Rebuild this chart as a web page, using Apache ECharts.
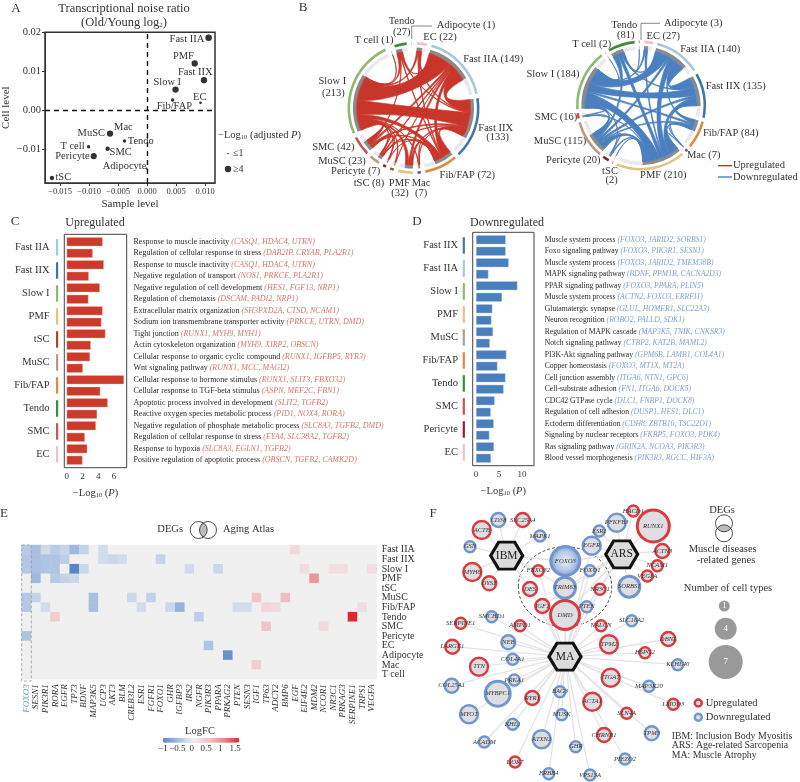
<!DOCTYPE html>
<html><head><meta charset="utf-8">
<style>html,body{margin:0;padding:0;background:#fff}#c{width:800px;height:782px}</style>
<script src="https://cdn.jsdelivr.net/npm/echarts@6/dist/echarts.min.js"></script>
</head><body><div id="c"></div>
<script>
const FONT='Liberation Serif', INK='#333';
/* ---------- A ---------- */
const noiseNames=['Fast IIA','PMF','Fast IIX','Slow I','Fib/FAP','EC','Mac','MuSC','Tendo','T cell','SMC','Pericyte','Adipocyte','tSC'];
const noiseSample=[0.0106,0.0082,0.0098,0.0049,0.0044,0.0092,-0.0062,-0.0064,-0.0039,-0.0101,-0.0068,-0.0092,-0.0001,-0.0164];
const noiseCell=[0.0186,0.012,0.0077,0.0053,0.0026,0.0019,-0.006,-0.006,-0.0079,-0.0094,-0.0099,-0.0118,-0.0150,-0.0174];
const noiseLogP=[4.2,4,4,4,1.6,1,1,4,1.6,1.6,2.4,3.8,0.6,2.4];
const noiseOffset=[[-21.7,1],[-11.3,-7.7],[-8.7,-7.7],[-8.3,-7.3],[1.7,6.3],[-.7,-6],[12.3,-6.7],[-18.7,-.3],[16.3,0],[-16,-.3],[13,3.7],[-21.3,0],[-22,-2.3],[11.3,-1]];
/* ---------- B ---------- */
const chordOrder=['EC','Fast IIA','Fast IIX','Fib/FAP','Mac','PMF','tSC','Pericyte','MuSC','SMC','Slow I','T cell','Tendo','Adipocyte'];
const chordColors=['#e8c2d0','#a5c8dd','#3f78a8','#e08a3c','#6a3fa0','#e0c483','#a8452a','#8f2330','#b89a85','#c9525f','#8cbb6e','#e8a070','#3f8a3c','#8f8f8f'];
const upCounts=[22,149,133,72,7,32,8,7,23,42,213,1,27,1];
const downCounts=[27,140,135,84,7,210,2,20,115,16,184,2,81,3];
const upLinks=[['Fast IIA','Slow I',50],['Fast IIA','Fast IIX',28],['Fast IIX','Slow I',38],['Fast IIA','Fib/FAP',9],['Fast IIX','Fib/FAP',12],['Slow I','Fib/FAP',12],['Slow I','PMF',8],['Fast IIA','PMF',5],['Fast IIX','PMF',4],['PMF','Fib/FAP',2],['Slow I','SMC',9],['Fast IIA','SMC',5],['Fast IIX','SMC',4],['Fib/FAP','SMC',3],['Slow I','Tendo',6],['Fast IIA','Tendo',4],['Fast IIX','Tendo',2],['Fib/FAP','Tendo',2],['Tendo','SMC',1],['Slow I','EC',4],['Fast IIA','EC',4],['Fast IIX','EC',3],['Fib/FAP','EC',2],['Slow I','MuSC',4],['Fast IIA','MuSC',2],['Fast IIX','MuSC',2],['Fib/FAP','MuSC',1],['MuSC','SMC',1],['Mac','Slow I',2],['Mac','Fast IIX',1],['Mac','Fib/FAP',1],['tSC','Slow I',2],['tSC','Fast IIA',1],['Pericyte','Slow I',1],['Pericyte','SMC',1],['Pericyte','Fib/FAP',1],['T cell','Slow I',1]];
const downLinks=[['PMF','Slow I',35],['PMF','Fast IIA',22],['PMF','Fast IIX',20],['PMF','MuSC',18],['PMF','Fib/FAP',10],['PMF','Tendo',12],['PMF','EC',4],['Slow I','Fast IIA',38],['Slow I','Fast IIX',28],['Slow I','MuSC',15],['Slow I','Fib/FAP',7],['Slow I','Tendo',10],['Fast IIA','Fast IIX',30],['Fast IIA','MuSC',8],['Fast IIA','Fib/FAP',6],['Fast IIA','Tendo',5],['Fast IIX','Fib/FAP',8],['Fast IIX','MuSC',8],['Fast IIX','Tendo',5],['MuSC','Fib/FAP',5],['MuSC','Tendo',8],['EC','Slow I',5],['EC','Fast IIA',4],['SMC','Slow I',3],['SMC','PMF',2],['SMC','MuSC',2],['Pericyte','PMF',4],['Pericyte','MuSC',2],['Pericyte','Slow I',2],['Mac','PMF',2],['Mac','Fib/FAP',1],['Mac','Fast IIX',1],['tSC','PMF',1],['T cell','Slow I',1],['Adipocyte','Tendo',1]];
/* ---------- C / D ---------- */
const upCells=['Fast IIA','Fast IIX','Slow I','PMF','tSC','MuSC','Fib/FAP','Tendo','SMC','EC'];
const upCellColors=['#a5c8dd','#3f78a8','#8cbb6e','#e0c483','#a8452a','#b89a85','#e08a3c','#3f8a3c','#c9525f','#e8c2d0'];
const upValues=[4.55,3.3,4.7,2.8,4.2,2.75,4.55,4.4,4.9,3.05,2.95,2.05,7.25,4.25,5.2,3.85,3.7,2.3,2.6,2.0];
const upTerms=['Response to muscle inactivity','Regulation of cellular response to stress','Response to muscle inactivity','Negative regulation of transport','Negative regulation of cell development','Regulation of chemotaxis','Extracellular matrix organization','Sodium ion transmembrane transporter activity','Tight junction','Actin cytoskeleton organization','Cellular response to organic cyclic compound','Wnt signaling pathway','Cellular response to hormone stimulus','Cellular response to TGF-beta stimulus','Apoptotic process involved in development','Reactive oxygen species metabolic process','Negative regulation of phosphate metabolic process','Regulation of cellular response to stress','Response to hypoxia','Positive regulation of apoptotic process'];
const upGenes=['CASQ1, HDAC4, UTRN','DAB2IP, CRYAB, PLA2R1','CASQ1, HDAC4, UTRN','NOS1, PRKCE, PLA2R1','HES1, FGF13, NRP1','DSCAM, PADI2, NRP1','SH3PXD2A, CTSD, NCAM1','PRKCE, UTRN, DMD','RUNX1, MYH9, MYH1','MYH9, XIRP2, OBSCN','RUNX1, IGFBP5, RYR3','RUNX1, MCC, MAGI2','RUNX1, SLIT3, FBXO32','ASPN, MEF2C, FBN1','SLIT2, TGFB2','PID1, NOX4, RORA','SLC8A3, TGFB2, DMD','EYA4, SLC38A2, TGFB2','SLC8A3, EGLN1, TGFB2','OBSCN, TGFB2, CAMK2D'];
const downCells=['Fast IIX','Fast IIA','Slow I','PMF','MuSC','Fib/FAP','Tendo','SMC','Pericyte','EC'];
const downCellColors=['#3f78a8','#a5c8dd','#8cbb6e','#e0c483','#b89a85','#e08a3c','#3f8a3c','#c9525f','#8f2330','#e8c2d0'];
const downValues=[6.45,6.45,7.1,2.7,9.0,5.65,3.55,3.35,3.7,3.0,6.6,4.65,6.4,6.0,4.05,3.2,3.85,2.9,3.9,3.25];
const downTerms=['Muscle system process','Foxo signaling pathway','Muscle system process','MAPK signaling pathway','PPAR signaling pathway','Muscle system process','Glutamatergic synapse','Neuron recognition','Regulation of MAPK cascade','Notch signaling pathway','PI3K-Akt signaling pathway','Copper homeostasis','Cell junction assembly','Cell-substrate adhesion','CDC42 GTPase cycle','Regulation of cell adhesion','Ectoderm differentiation','Signaling by nuclear receptors','Ras signaling pathway','Blood vessel morphogenesis'];
const downGenes=['FOXO3, JARID2, SORBS1','FOXO3, PIK3R1, SESN1','FOXO3, JARID2, TMEM38B','BDNF, PPM1B, CACNA2D3','FOXO3, PPARA, PLIN5','ACTN2, FOXO3, ERRFI1','GLUL, HOMER1, SLC22A3','ROBO2, PALLD, SDK1','MAP3K5, TNIK, CNKSR3','CTBP2, KAT2B, MAML2','GPM6B, LAMB1, COL4A1','FOXO3, MT1X, MT2A','ITGA6, NTN1, GPC6','FN1, ITGA6, DOCK5','DLC1, FNBP1, DOCK8','DUSP1, HES1, DLC1','CDH8, ZBTB16, TSC22D1','FKBP5, FOXO3, PDK4','GRIN2A, NCOA3, PIK3R3','PIK3R3, RGCC, HIF3A'];
/* ---------- E ---------- */
const heatGenes=['FOXO3','SESN1','PIK3R1','RORA','EGFR','TP73','BDNF','MAP3K5','UCP3','AKT3','BLM','CREB3L2','ESR1','FGFR1','FOXO1','GHR','IGFBP3','IRS2','NGFR','PIK3R3','PPARA','PRKAG2','PTEN','SESN3','IGF1','TP63','ADCY2','BMP6','EGF','EIF4E2','MDM2','NCOR1','NR3C1','PRKAG3','SERPINE1','TRPS1','VEGFA'];
const heatCells=['Fast IIA','Fast IIX','Slow I','PMF','tSC','MuSC','Fib/FAP','Tendo','SMC','Pericyte','EC','Adipocyte','Mac','T cell'];
const heatNonZero=[[0,0,-.4],[1,0,-.5],[2,0,-.22],[3,0,-.38],[4,0,-.28],[5,0,-.55],[6,0,-.3],[8,0,-.2],[28,0,.25],
[0,1,-.42],[1,1,-.5],[2,1,-.45],[3,1,-.45],[4,1,-.35],[8,1,-.2],[9,1,-.25],[10,1,-.2],[14,1,-.3],
[0,2,-.42],[1,2,-.5],[2,2,-.45],[3,2,-.45],[5,2,-1],[6,2,-.25],[17,2,-.22],[20,2,-.25],[29,2,.2],[32,2,.2],[33,2,.2],[36,2,.2],
[1,3,-.55],[3,3,-.4],[4,3,-.3],[5,3,-.25],[30,3,.9],
[0,5,-.42],[1,5,-.3],[7,5,-.5],[11,5,-.25],[13,5,-.32],[24,5,.5],[27,5,.55],
[0,6,-.42],[2,6,-.2],[7,6,-.5],[12,6,-.2],[15,6,-.25],[16,6,-.6],[22,6,-.2],[23,6,-.2],[25,6,.3],[26,6,.25],[35,6,.2],
[3,7,.4],[18,7,-.35],[34,7,1.5],
[25,8,.5],[31,8,.25],
[0,9,-.45],
[19,10,-.45],
[21,11,-.9],
[24,12,.4]];
const heatTicks=[-1,-0.5,0,0.5,1,1.5];
/* ---------- F: gene, position in the network layout, number of cell types, direction ---------- */
const netGenes=[['CD38',498.3,520,2,'d'],['SLC25A4',522.7,520,2,'u'],['ACTB',481.7,530,3,'u'],['MAPK1',540,536,1,'d'],['GSN',470,546.7,1,'d'],['MYH6',472.3,572,3,'u'],['DYSF',489.3,583.3,2,'u'],['FBXO32',538.3,570.7,1,'u'],['FOXO3',565.3,561,6,'d'],['FOXO1',590,570.7,1,'d'],['EGFR',591.7,545.7,3,'d'],['ESR1',599.3,531,1,'d'],['PFKFB3',616.7,522.7,3,'d'],['HACD1',633.3,511,1,'u'],['RUNX1',653.3,526,7,'u'],['ACTN3',662.3,551,2,'u'],['NCAM1',657.3,565.7,1,'u'],['VEGFA',647.3,576,1,'u'],['SORBS1',629.3,586.7,4,'d'],['NR3C1',600,589.3,1,'u'],['TRIM63',565,587.7,4,'d'],['DES',530,589,2,'u'],['IGF1',542.3,606,2,'u'],['DMD',565,615,6,'u'],['PTEN',586.7,606.7,1,'d'],['SMCHD1',491.7,616.7,1,'d'],['SERPINE1',460.7,623.3,1,'u'],['AMPD1',520,625.7,1,'u'],['NALCN',601,625.7,1,'u'],['SLC16A2',631.7,620.7,1,'d'],['LARGE1',452.3,646.7,2,'u'],['NEB',508.3,642.3,2,'d'],['COL4A1',512.7,659.3,1,'d'],['TTN',479,666.7,3,'u'],['COL25A1',451.7,685.7,2,'d'],['PRKA1',514.3,680,1,'d'],['MYBPC1',497.7,693.7,5,'d'],['RYR1',532.3,698,2,'u'],['BAG3',560,691.7,1,'d'],['ACTA1',592.3,701.7,3,'u'],['TPM2',609,644.3,3,'u'],['ITGA7',610.7,677.7,3,'u'],['MYOT',469,714.3,3,'d'],['MUSK',561.7,714.7,1,'d'],['KHL1',512.7,724.3,1,'d'],['CHRNB1',604,735,2,'u'],['ATXN2',541.7,739.3,3,'d'],['ACADM',484.3,742,1,'d'],['GHR',575.7,746.7,1,'d'],['DOK7',515,762,1,'u'],['ERBB4',548.7,773.7,1,'d'],['VPS13A',590,775,1,'d'],['PIEZO2',625,759,1,'d'],['TPM3',651.7,733.3,2,'d'],['SLN4A',626.7,713.3,1,'u'],['HSPG2',645,652.7,1,'u'],['DBNL',668.3,639,2,'u'],['KLHL40',677.7,664.7,1,'d'],['MAP3K20',649,686.3,1,'d'],['LMOD3',673.3,704.3,1,'u']];
const netHubs=[['IBM',506.7,555.7],['ARS',621.7,554.3],['MA',565,656.7]];
const ibmGenes=['CD38','SLC25A4','ACTB','MAPK1','GSN','MYH6','DYSF','FBXO32','DES','FOXO3','TRIM63'];
const arsGenes=['RUNX1','PFKFB3','HACD1','ACTN3','NCAM1','VEGFA','SORBS1','ESR1','EGFR','FOXO3','FOXO1','TRIM63','DMD','PTEN','NR3C1','IGF1'];
const maGenes=['SERPINE1','SMCHD1','AMPD1','NALCN','SLC16A2','LARGE1','NEB','COL4A1','TTN','COL25A1','PRKA1','MYBPC1','RYR1','BAG3','ACTA1','TPM2','ITGA7','MYOT','MUSK','KHL1','CHRNB1','ATXN2','ACADM','GHR','DOK7','ERBB4','VPS13A','PIEZO2','TPM3','SLN4A','HSPG2','DBNL','KLHL40','MAP3K20','LMOD3','FOXO3','TRIM63','DMD','IGF1','PTEN','NR3C1','FOXO1','DES','FBXO32','EGFR'];
const cellTypeLegend=[1,4,7];

/* ---------- helpers ---------- */
const rad=a=>(a-90)*Math.PI/180;
function chordLayout(counts,links,scale,gap,start){
  const n=chordOrder.length, nodes=[]; let a=start;
  for(let i=0;i<n;i++){const w=counts[i]*scale;nodes.push({i,a0:a,a1:a+w,cur:a,parts:[]});a+=w+gap;}
  const ribbons=links.map(l=>({s:chordOrder.indexOf(l[0]),t:chordOrder.indexOf(l[1]),v:l[2]}));
  ribbons.forEach((r,k)=>{nodes[r.s].parts.push({k,o:r.t,end:'a'});nodes[r.t].parts.push({k,o:r.s,end:'b'});});
  nodes.forEach(nd=>{
    nd.parts.sort((p,q)=>((q.o-nd.i+n)%n)-((p.o-nd.i+n)%n));
    nd.parts.forEach(p=>{const r=ribbons[p.k],w=r.v*scale;r[p.end]=[nd.cur,nd.cur+w];nd.cur+=w;});
  });
  return {nodes,ribbons};
}
function ribbonPath(r,cx,cy,R){
  const pt=a=>[cx+R*Math.cos(rad(a)),cy+R*Math.sin(rad(a))];
  const s=p=>p[0].toFixed(2)+' '+p[1].toFixed(2);
  const h=.5, c=p=>s([cx+(p[0]-cx)*h,cy+(p[1]-cy)*h]);
  const a0=pt(r.a[0]),a1=pt(r.a[1]),b0=pt(r.b[0]),b1=pt(r.b[1]);
  return `M${s(a0)}A${R} ${R} 0 0 1 ${s(a1)}C${c(a1)} ${c(b0)} ${s(b0)}A${R} ${R} 0 0 1 ${s(b1)}C${c(b1)} ${c(a0)} ${s(a0)}Z`;
}
function chordSeries(counts,links,scale,gap,start,cx,cy,Ro,fill){
  const L=chordLayout(counts,links,scale,gap,start), Rin=Ro-9;
  const sec=(r0,r,a0,a1,c)=>({type:'sector',shape:{cx,cy,r0,r,startAngle:rad(a0),endAngle:rad(a1),clockwise:true},style:{fill:c}});
  return [
   {type:'custom',coordinateSystem:'none',silent:true,z:2,animation:false,data:counts.map((c,i)=>[c,i]),
    renderItem:(p)=>{const nd=L.nodes[p.dataIndex];
      const ch=[sec(Ro-2.6,Ro,nd.a0,nd.a1,chordColors[nd.i]),sec(Rin,Rin+3.6,nd.a0,nd.a1,'#e9e9ee')];
      if(nd.cur>nd.a0)ch.push(sec(Rin,Rin+3.6,nd.a0,nd.cur,'#8a8a8a'));
      return {type:'group',children:ch};}},
   {type:'custom',coordinateSystem:'none',silent:true,z:3,animation:false,data:links.map(l=>[l[2]]),
    renderItem:(p)=>({type:'path',shape:{pathData:ribbonPath(L.ribbons[p.dataIndex],cx,cy,Rin)},style:{fill,stroke:fill,lineWidth:.7}})}
  ];
}
const g=[];
function T(text,x,y,o={}){g.push({type:'text',x,y,z:10,silent:true,rotation:o.rot||0,style:Object.assign({text,fill:o.fill||INK,fontFamily:FONT,fontSize:o.size||10.5,align:o.align||'center',verticalAlign:'middle',fontStyle:o.italic?'italic':'normal'},o.rich?{rich:o.rich}:{})});}
function L(x1,y1,x2,y2,c,w){g.push({type:'line',z:10,silent:true,shape:{x1,y1,x2,y2},style:{stroke:c,lineWidth:w||1}});}
function R(x,y,w,h,o){g.push({type:'rect',z:o.z||10,silent:true,shape:{x,y,width:w,height:h},style:Object.assign({},o)});}
function C(cx,cy,r,o){g.push({type:'circle',z:o.z||10,silent:true,shape:{cx,cy,r},style:o});}
function lens(x1,y1,x2,y2,r,fill){
  const dx=x2-x1,dy=y2-y1,d=Math.hypot(dx,dy),base=Math.atan2(dy,dx),h=Math.acos(d/2/r),pts=[];
  for(let i=0;i<=14;i++){const t=base-h+2*h*i/14;pts.push([x1+r*Math.cos(t),y1+r*Math.sin(t)]);}
  for(let i=0;i<=14;i++){const t=base+Math.PI-h+2*h*i/14;pts.push([x2+r*Math.cos(t),y2+r*Math.sin(t)]);}
  g.push({type:'polygon',z:9,silent:true,shape:{points:pts},style:{fill}});
}
const subRich={s:{fontSize:6.5,fontFamily:FONT,verticalAlign:'bottom',padding:[4,0,0,0],fill:INK,color:INK},i:{fontStyle:'italic',fontFamily:FONT,fill:INK,color:INK,fontSize:10.5}};

/* panel letters and titles */
[['A',16,9],['B',303,8],['C',15,222],['D',417,222],['E',4,514],['F',433,514]].forEach(a=>T(a[0],a[1],a[2],{size:13}));
T('Transcriptional noise ratio',124,8.5,{size:12.5});
T('(Old/Young log{s|2})',124,23,{size:12.5,rich:{s:{fontSize:7,fontFamily:FONT,padding:[5,0,0,0],fill:INK}}});
T('Upregulated',95,222.5,{size:12});
T('Downregulated',507,222.5,{size:12});
/* A legend */
T('−Log{s|10} (adjusted {i|P})',218,135,{size:10.5,align:'left',rich:subRich});
C(228,153.5,.8,{fill:'#333'});T('≤1',233,153.5,{align:'left',size:10});
C(228,169,3.2,{fill:'#333'});T('≥4',233,169.5,{align:'left',size:10});
/* B labels */
[['Tendo',401.7,21.7],['(27)',401.7,32],['Adipocyte (1)',466,25],['T cell (1)',374,40.7],['EC (22)',440,37.3],['Fast IIA (149)',493.3,59.3],['Slow I',332.3,81],['(213)',333.3,93.3],['Fast IIX',495.7,128],['(133)',497.7,137.3],['SMC (42)',333.3,147],['MuSC (23)',342,161.7],['Pericyte (7)',355.7,171.7],['tSC (8)',369,183.7],['PMF',399.3,183],['(32)',400,193.3],['Mac',421,183],['(7)',421,193.3],['Fib/FAP (72)',467.3,175.3],
 ['Tendo',624.3,25.3],['(81)',625.7,35.7],['Adipocyte (3)',693.3,23.3],['EC (27)',663.3,36],['T cell (2)',591.7,44.7],['Fast IIA (140)',710.3,49.7],['Slow I (184)',553,74.7],['Fast IIX (135)',735.7,86.3],['SMC (16)',556,117],['MuSC (115)',560,141.7],['Fib/FAP (84)',730.7,133.7],['Mac (7)',703.7,155.3],['Pericyte (20)',573.3,160.3],['tSC',610,171],['(2)',611.7,180.3],['PMF (210)',663.3,175.7]
].forEach(a=>T(a[0],a[1],a[2],{size:10.5}));
L(411.7,39,411.7,26,'#555',.7);L(411.7,26,432,26,'#555',.7);
L(641,40,641,23.3,'#555',.7);L(641,23.3,660,23.3,'#555',.7);
L(718,165.7,732,165.7,'#c8352a',1.4);T('Upregulated',733,165.7,{align:'left',size:10.5});
L(718,177,732,177,'#4a80bf',1.4);T('Downregulated',733,177,{align:'left',size:10.5});
/* C / D frames and cell-type bars */
R(64.3,234.3,62.4,233.4,{fill:null,stroke:'#444',lineWidth:1});
R(472.7,232.3,61.3,233.4,{fill:null,stroke:'#444',lineWidth:1});
upCellColors.forEach((c,i)=>R(56,236+i*23+3.2,2.2,16.5,{fill:c}));
downCellColors.forEach((c,i)=>R(462.7,234+i*23+3.2,2.2,16.5,{fill:c}));
/* E */
R(21.7,545,9.6,136,{fill:null,stroke:'#999',lineWidth:.8,lineDash:[3,2]});
T('DEGs',183,529.5,{align:'right',size:10.5});T('Aging Atlas',223,529.5,{align:'left',size:10.5});
lens(198.7,530,208,530,8.5,'#bdbdbd');
C(198.7,530,8.5,{fill:null,stroke:'#222',lineWidth:.8});C(208,530,8.5,{fill:null,stroke:'#222',lineWidth:.8});
T('LogFC',200,731,{size:10.5});
heatTicks.forEach(v=>T(v<0?'−'+Math.abs(v):String(v),163+(v+1)*28.8,749,{size:9}));
/* F legends */
g.push({type:'ellipse',z:4,silent:true,shape:{cx:565,cy:586.7,rx:46.7,ry:40},style:{fill:null,stroke:'#222',lineWidth:.8,lineDash:[3,2]}});
T('DEGs',722,510.7);
lens(724,523.3,724,533.3,8.5,'#bdbdbd');
C(724,523.3,8.5,{fill:null,stroke:'#222',lineWidth:.8});C(724,533.3,8.5,{fill:null,stroke:'#222',lineWidth:.8});
T('Muscle diseases',722.7,549);T('-related genes',726,560);
T('Number of cell types',728,588.3);
[[724.3,606,5.5],[725.7,628.7,11],[725.7,662,17]].forEach((c,i)=>{C(c[0],c[1],c[2],{fill:'#999'});T(String(cellTypeLegend[i]),c[0],c[1],{fill:'#fff',size:9});});
C(698.3,703,3.5,{fill:'#dedee2',stroke:'#d9363a',lineWidth:2.4});T('Upregulated',705.7,703,{align:'left'});
C(698.3,717.3,3.5,{fill:'#dedee2',stroke:'#6f96cf',lineWidth:2.4});T('Downregulated',705.7,717.3,{align:'left'});
T('IBM: Inclusion Body Myositis',671.7,736,{align:'left',size:9.8});T('ARS: Age-related Sarcopenia',671.7,745.7,{align:'left',size:9.8});T('MA: Muscle Atrophy',671.7,755.7,{align:'left',size:9.8});

/* series data */
const noiseData=noiseNames.map((n,i)=>({name:n,value:[noiseSample[i],noiseCell[i]],symbolSize:1.5+1.2*noiseLogP[i],
  label:{show:true,position:'inside',offset:noiseOffset[i],formatter:'{b}',fontSize:10.5,color:INK,fontFamily:FONT}}));
const heatData=[];
heatGenes.forEach((_,x)=>heatCells.forEach((_,y)=>{const f=heatNonZero.find(c=>c[0]===x&&c[1]===y);heatData.push([x,y,f?f[2]:0]);}));
const nodeSize=[0,12,15,19,22,26,30,33];
const netNodes=netGenes.map(r=>({name:r[0],value:[r[1],r[2]],symbol:'circle',symbolSize:nodeSize[r[3]]-1,
  itemStyle:{color:r[0]==='FOXO3'?{type:'radial',x:.5,y:.5,r:.5,colorStops:[{offset:0,color:'#eceef5'},{offset:.6,color:'#b5c8e6'},{offset:1,color:'#6f96cf'}]}:'#dedee2',borderColor:r[4]==='u'?'#dc3a3f':'#6f96cf',borderWidth:r[3]>3?3:2.4},
  label:{show:true,position:'inside',fontSize:6.6,fontStyle:'italic',color:'#333',fontFamily:FONT}}))
 .concat(netHubs.map(h=>({name:h[0],value:[h[1],h[2]],symbol:'path://M0 50L25 0L75 0L100 50L75 100L25 100Z',symbolSize:[32,27],symbolKeepAspect:false,
  itemStyle:{color:'#dcdcdc',borderColor:'#111',borderWidth:3},label:{show:true,position:'inside',fontSize:11.5,color:'#222',fontFamily:FONT}})));
const lk=(h,list)=>list.map(t=>({source:h,target:t}));
const netLinks=lk('IBM',ibmGenes).concat(lk('ARS',arsGenes),lk('MA',maGenes));

function termAxis(terms,genes,color,gridIndex,margin,size){return {type:'category',gridIndex,inverse:true,position:'right',data:terms,axisLine:{show:false},axisTick:{show:false},
  axisLabel:{interval:0,margin,align:'left',fontSize:size,color:'#2a2a2a',fontFamily:FONT,
    formatter:(v,i)=>`${v} {g|(${genes[i]})}`,rich:{g:{fontStyle:'italic',fontSize:size,color,fontFamily:FONT}}}};}
function cellAxis(cells,gridIndex){return {type:'category',gridIndex,inverse:true,position:'left',data:cells,axisLine:{show:false},axisTick:{show:false},
  axisLabel:{interval:0,margin:14.7,fontSize:10.5,color:INK,fontFamily:FONT}};}
function valAxis(gridIndex,min,max,ticks){return {type:'value',gridIndex,min,max,offset:1.7,splitLine:{show:false},axisLine:{show:false},
  axisTick:{length:3,customValues:ticks,lineStyle:{color:'#444'}},
  axisLabel:{customValues:ticks,fontSize:9,margin:4,color:INK,fontFamily:FONT},
  name:'−Log{s|10} ({i|P})',nameLocation:'middle',nameGap:20,nameTextStyle:{fontSize:10.5,color:INK,fontFamily:FONT,rich:subRich}};}

const option={
 animation:false,backgroundColor:'#fff',textStyle:{fontFamily:FONT,color:INK},
 grid:[
  {left:45,top:32.3,width:170,height:150.7,show:true,borderColor:'#333',borderWidth:1.5,containLabel:false},
  {left:64.3,top:236,width:62.4,height:230},
  {left:472.7,top:234,width:61.3,height:230},
  {left:21.7,top:545,width:355,height:134.3},
  {left:420,top:500,width:380,height:282}
 ],
 xAxis:[
  {type:'value',gridIndex:0,min:-0.0176,max:0.0117,splitLine:{show:false},axisLine:{onZero:false,lineStyle:{color:'#333'}},
   axisTick:{length:3,customValues:[-0.015,-0.01,-0.005,0,0.005,0.01]},
   axisLabel:{customValues:[-0.015,-0.01,-0.005,0,0.005,0.01],fontSize:8.5,margin:4,color:INK,formatter:v=>(v<0?'−':'')+Math.abs(v).toFixed(3)},
   name:'Sample level',nameLocation:'middle',nameGap:16,nameTextStyle:{fontSize:11,color:INK}},
  valAxis(1,-0.3,7.6,[0,2,4,6]),
  valAxis(2,-0.72,12.6,[0,5,10]),
  {type:'category',gridIndex:3,data:heatGenes.map((n,i)=>i===0?{value:n,textStyle:{color:'#6f96cf'}}:n),axisLine:{show:false},axisTick:{show:false},
   axisLabel:{interval:0,rotate:90,margin:5,fontSize:9,fontStyle:'italic',color:INK,fontFamily:FONT}},
  {type:'value',gridIndex:4,min:420,max:800,show:false}
 ],
 yAxis:[
  {type:'value',gridIndex:0,min:-0.0187,max:0.02,splitLine:{show:false},axisLine:{onZero:false,lineStyle:{color:'#333'}},
   axisTick:{length:3,customValues:[-0.01,0,0.01,0.02]},
   axisLabel:{customValues:[-0.01,0,0.01,0.02],fontSize:10.5,margin:4,color:INK,formatter:v=>(v<0?'−':'')+Math.abs(v).toFixed(2)},
   name:'Cell level',nameLocation:'middle',nameGap:33,nameTextStyle:{fontSize:11,color:INK}},
  termAxis(upTerms,upGenes,'#d4776b',1,6.8,8.0),
  cellAxis(upCells,1),
  termAxis(downTerms,downGenes,'#7f9fcd',2,10.7,7.7),
  cellAxis(downCells,2),
  {type:'category',gridIndex:3,inverse:true,position:'right',data:heatCells,axisLine:{show:false},axisTick:{show:false},
   axisLabel:{interval:0,margin:5,fontSize:10,color:INK,fontFamily:FONT}},
  {type:'value',gridIndex:4,min:500,max:782,inverse:true,show:false}
 ],
 visualMap:[{type:'continuous',seriesIndex:3,min:-1,max:1.5,calculable:false,orient:'horizontal',left:162.7,top:737.7,padding:0,itemWidth:5,itemHeight:76.6,text:null,showLabel:false,
   textStyle:{fontSize:0},inRange:{color:['#5a86c8','#a8bfe2','#f0f0f0','#f0c4c8','#e88a8e','#e0282e']}}],
 series:[
  {type:'scatter',xAxisIndex:0,yAxisIndex:0,data:noiseData,itemStyle:{color:'#333',opacity:1},silent:true,
   markLine:{silent:true,symbol:'none',animation:false,label:{show:false},lineStyle:{color:'#111',type:[5,4],width:1.4},data:[{xAxis:0},{yAxis:0}]}},
  {type:'bar',xAxisIndex:1,yAxisIndex:1,data:upValues,barWidth:9,silent:true,itemStyle:{color:'#cc3a2b',borderColor:'#f0c0b8',borderWidth:.4}},
  {type:'bar',xAxisIndex:2,yAxisIndex:3,data:downValues,barWidth:9,silent:true,itemStyle:{color:'#4a7fbd',borderColor:'#c5d8ee',borderWidth:.4}},
  {type:'heatmap',xAxisIndex:3,yAxisIndex:5,data:heatData,silent:true,itemStyle:{borderWidth:0}},
  {type:'graph',coordinateSystem:'cartesian2d',xAxisIndex:4,yAxisIndex:6,layout:'none',silent:true,data:netNodes,links:netLinks,z:5,
   lineStyle:{color:'#e4e4e4',width:1.3,opacity:1,curveness:0},edgeSymbol:['none','none']},
  ...chordSeries(upCounts,upLinks,0.41,4.1,3,413.5,108,66,'#c8352a'),
  ...chordSeries(downCounts,downLinks,0.30,3.7,3,641,105.5,65,'#4a80bf')
 ],
 graphic:{elements:g}
};
const chart=echarts.init(document.getElementById('c'),null,{renderer:'canvas'});
chart.setOption(option);
</script></body></html>
